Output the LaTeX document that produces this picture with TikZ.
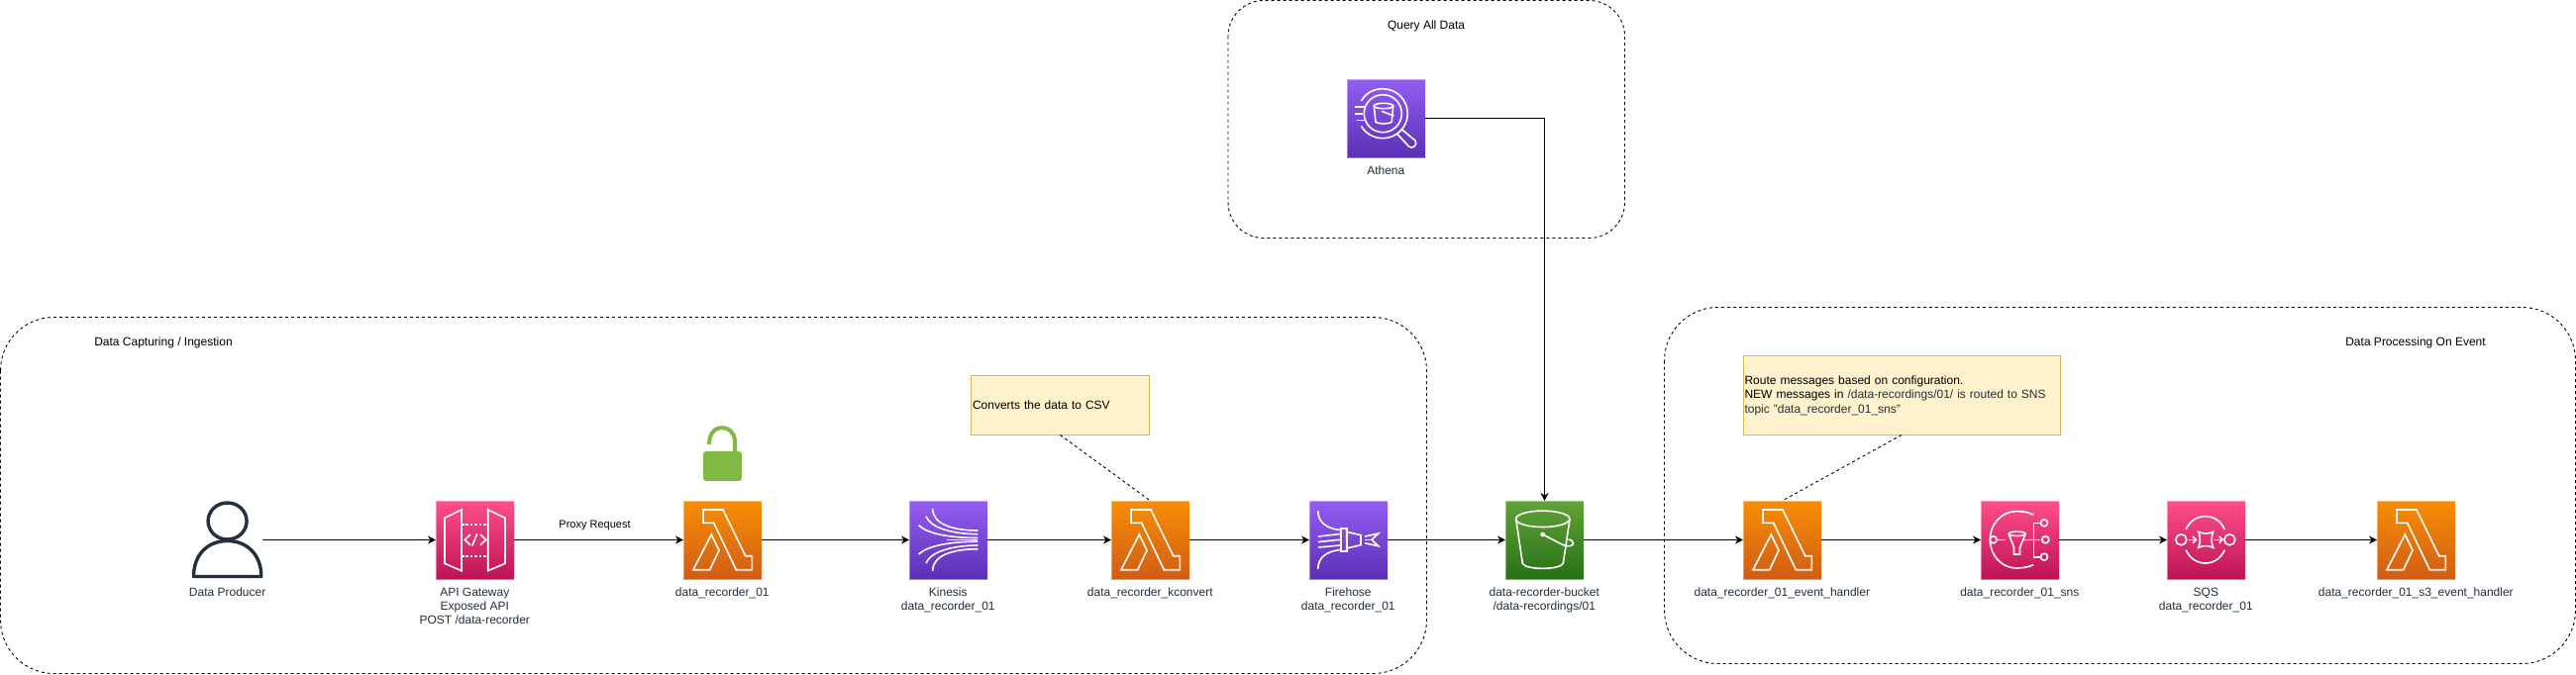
\documentclass[tikz,border=0pt]{standalone}
\usepackage{fontspec}
\setmainfont{Liberation Sans}
\usetikzlibrary{arrows.meta}
\definecolor{awsink}{HTML}{232F3E}
\definecolor{notefill}{HTML}{FFF2CC}
\definecolor{noteline}{HTML}{D6B656}
\definecolor{lockgreen}{HTML}{7FBA42}
\tikzset{
  icon/.style={rectangle,anchor=north west,minimum width=79pt,minimum height=79pt,inner sep=0pt,outer sep=0pt,draw=white,draw opacity=.4,line width=1pt},
  orangeicon/.style={icon,top color={rgb,255:red,247;green,142;blue,4},bottom color={rgb,255:red,208;green,92;blue,23}},
  purpleicon/.style={icon,top color={rgb,255:red,148;green,93;blue,242},bottom color={rgb,255:red,90;green,48;blue,181}},
  pinkicon/.style={icon,top color={rgb,255:red,255;green,79;blue,139},bottom color={rgb,255:red,188;green,19;blue,86}},
  greenicon/.style={icon,top color={rgb,255:red,96;green,163;blue,55},bottom color={rgb,255:red,39;green,113;blue,22}},
  glyph/.style={draw=white,line width=1.6pt,line join=miter,fill=none},
  groupbox/.style={draw=black,dash pattern=on 3pt off 3pt,line width=.9pt,fill=none},
  grouptitle/.style={font=\fontsize{12}{14.4}\selectfont,text=black,inner sep=0pt},
  iconlabel/.style={font=\fontsize{12}{14.4}\selectfont,text=awsink,align=center,anchor=north,inner sep=0pt},
  notebox/.style={rectangle,draw=noteline,fill=notefill,line width=1pt,anchor=north west,inner xsep=1.5pt,inner ysep=0pt,align=left,font=\fontsize{12}{14.4}\selectfont,text=black,outer sep=0pt},
  flow/.style={draw=black,line width=1pt,-{Stealth[length=8pt,width=8pt,inset=2.5pt]}},
  notelink/.style={draw=black,line width=.9pt,dash pattern=on 3pt off 3pt},
}
\newcommand{\glyphLambda}{%
  \draw[glyph] (20,9)--(40,9)--(62.7,55.7)--(69.3,55.7)--(69.3,69.7)--(53.3,69.7)--(30.7,22.3)--(20,22.3)--cycle;
  \draw[glyph] (28.3,34)--(36,50)--(26.7,69.7)--(10,69.7)--cycle;}
\newcommand{\glyphGateway}{%
  \draw[glyph] (26,9)--(26,70.7)--(9,63.3)--(9,17.3)--cycle;
  \draw[glyph] (52.7,9)--(70,17.3)--(70,63.3)--(52.7,70.7)--cycle;
  \draw[glyph,dash pattern=on 2.6pt off 1.8pt] (26,24)--(52.7,24);
  \draw[glyph,dash pattern=on 2.6pt off 1.8pt] (26,55.7)--(52.7,55.7);
  \draw[glyph] (35,34)--(29.3,39.3)--(35,44.7);
  \draw[glyph] (45,34)--(50.7,39.3)--(45,44.7);
  \draw[glyph] (41.7,33.3)--(36.7,45.7);}
\newcommand{\glyphKinesis}{%
  \draw[glyph] (23.7,8) .. controls (23.7,24) and (45,30) .. (69.3,30);
  \draw[glyph] (17,15.7) .. controls (22,28) and (45,33.5) .. (69.3,33.7);
  \draw[glyph] (9.7,24.7) .. controls (18,33) and (40,37.5) .. (69.3,37.5);
  \draw[glyph] (38,39.3)--(69.3,39.3);
  \draw[glyph] (23.7,70.7) .. controls (23.7,54.7) and (45,48.7) .. (69.3,48.7);
  \draw[glyph] (17,63) .. controls (22,50.7) and (45,45.2) .. (69.3,45);
  \draw[glyph] (9.7,54) .. controls (18,45.7) and (40,41.2) .. (69.3,41.2);}
\newcommand{\glyphFirehose}{%
  \draw[glyph] (8.7,10) .. controls (8.7,22) and (18,28) .. (31,29.5);
  \draw[glyph] (8.7,69) .. controls (8.7,57) and (18,51) .. (31,49.5);
  \draw[glyph] (9,36) -- (31,33.5);
  \draw[glyph] (9,41.5) -- (31,39.3);
  \draw[glyph] (9,47) -- (31,45);
  \draw[glyph] (31.7,28) rectangle (37.7,50.7);
  \draw[glyph] (37.7,31.3)--(52,34.7)--(52,44.7)--(37.7,48)--cycle;
  \draw[glyph] (56,36)--(69.7,33)--(63,39.3)--(69.7,45.7)--(56,42.7);
  \draw[glyph] (56,39.3)--(63,39.3);}
\newcommand{\glyphBucket}{%
  \draw[glyph] (37.7,18.3) ellipse[x radius=27.2,y radius=8.2];
  \draw[glyph] (10.7,18.3)--(17.3,63.3) .. controls (20,70) and (55,70) .. (58.3,63.3)--(65,18.3);
  \fill[white] (37.7,34) circle[radius=2.4];
  \draw[glyph] (37.7,34)--(58,44.5) .. controls (64,47.3) and (69,45) .. (68.5,42.5) .. controls (68,40) and (65,39) .. (63.5,39);}
\newcommand{\glyphTopic}{%
  \draw[glyph] (53.3,14) .. controls (48,11.5) and (42,10.6) .. (36,10.6) .. controls (21,10.6) and (9.3,23.5) .. (9.3,39.3) .. controls (9.3,55) and (21,68) .. (36,68) .. controls (42,68) and (48,67) .. (53.3,64.6);
  \draw[glyph] (12.7,39.3) circle[radius=3.5];
  \draw[glyph] (16,39.3)--(25,39.3);
  \draw[glyph] (36.7,33.3) ellipse[x radius=8.5,y radius=2.2];
  \draw[glyph] (28.2,33.3)--(33.5,47.3)--(33.5,54)--(39.5,54)--(39.5,47.3)--(45.2,33.3);
  \draw[glyph] (42,39.3)--(60,39.3);
  \draw[glyph] (60.7,22.3)--(53.3,22.3)--(53.3,56.7)--(60.7,56.7);
  \draw[glyph] (64,22.3) circle[radius=3.5];
  \draw[glyph] (65.3,39.3) circle[radius=3.5];
  \draw[glyph] (64,56.7) circle[radius=3.5];}
\newcommand{\glyphQueue}{%
  \draw[glyph] (19,29) .. controls (23,20.5) and (30,15.7) .. (38.7,15.7) .. controls (47.5,15.7) and (54.5,20.5) .. (58.3,29);
  \draw[glyph] (19,49.6) .. controls (23,58) and (30,63) .. (38.7,63) .. controls (47.5,63) and (54.5,58) .. (58.3,49.6);
  \draw[glyph] (14.3,39.3) circle[radius=5.5];
  \draw[glyph] (63.3,39.3) circle[radius=5.5];
  \draw[glyph] (31.7,31.3) .. controls (36,33.5) and (42,33.5) .. (46.7,31.3) .. controls (44.5,36) and (44.5,42.5) .. (46.7,47.3) .. controls (42,45) and (36,45) .. (31.7,47.3) .. controls (33.9,42.5) and (33.9,36) .. (31.7,31.3) -- cycle;
  \draw[glyph] (21.7,39.3)--(29,39.3);
  \draw[glyph] (26,36)--(29.3,39.3)--(26,42.6);
  \draw[glyph] (48.3,39.3)--(55.7,39.3);
  \draw[glyph] (52.7,36)--(56,39.3)--(52.7,42.6);}
\newcommand{\glyphAthena}{%
  \draw[glyph] (36.3,34.7) circle[radius=19];
  \draw[glyph] (14.5,22) .. controls (19,14) and (27,9.7) .. (36.3,9.7) .. controls (50,9.7) and (61.3,21) .. (61.3,34.7) .. controls (61.3,48.5) and (50,59.7) .. (36.3,59.7) .. controls (27,59.7) and (19,55) .. (14.5,47.5);
  \draw[glyph] (37,27) ellipse[x radius=9.7,y radius=2.7];
  \draw[glyph] (27.3,27)--(29,43) .. controls (31,45.5) and (43,45.5) .. (45.3,43)--(46.7,27);
  \draw[glyph] (35,32.3)--(47.3,37);
  \draw[glyph] (8,28)--(18,28);
  \draw[glyph] (8,34.7)--(16,34.7);
  \draw[glyph] (10,41.3)--(19,41.3);
  \draw[glyph] (55,50.5)--(69,62) .. controls (72,66) and (66,71.5) .. (62.5,68)--(50.5,55);}
\newcommand{\awsicon}[5]{%
  \node[#3] (#1) at (#2,#4) {};
  \begin{scope}[shift={(#2,#4)}]#5\end{scope}}
\begin{document}
\begin{tikzpicture}[x=1pt,y=-1pt]
\path[use as bounding box,fill=white] (0,0) rectangle (2601,681);
% groups
\draw[groupbox,rounded corners=54pt] (.5,320.5) rectangle (1440.5,680.5);
\draw[groupbox,rounded corners=36pt] (1240,.5) rectangle (1640.5,240.5);
\draw[groupbox,rounded corners=54pt] (1680.5,310.5) rectangle (2600.5,670.5);
\node[grouptitle] (capturetitle) at (165,346) {Data Capturing / Ingestion};
\node[grouptitle] (querytitle) at (1440,26) {Query All Data};
\node[grouptitle] (processtitle) at (2439,346) {Data Processing On Event};
% person
\node[rectangle,minimum width=71pt,minimum height=79pt,inner sep=0pt,outer sep=0pt,anchor=north west] (person) at (194,506) {};
\draw[awsink,line width=3.4pt] (229.6,526.5) ellipse[x radius=19.5,y radius=18.5];
\draw[awsink,line width=3.4pt,line join=round] (195.5,582.5) .. controls (195.5,560) and (210,546.5) .. (229.6,546.5) .. controls (249,546.5) and (263.8,560) .. (263.8,582.5) -- cycle;
% lock
\node[rectangle,fill=lockgreen,rounded corners=2.5pt,minimum width=38.7pt,minimum height=29.7pt,inner sep=0pt,anchor=north west] (lock) at (710,456) {};
\draw[lockgreen,line width=4pt] (716,449) .. controls (716,438) and (722,432) .. (729,432) .. controls (736,432) and (742,438) .. (742,445) -- (742,456);
% icons
\awsicon{gateway}{440}{pinkicon}{506}{\glyphGateway}
\awsicon{recorder}{690}{orangeicon}{506}{\glyphLambda}
\awsicon{kinesis}{918}{purpleicon}{506}{\glyphKinesis}
\awsicon{kconvert}{1122}{orangeicon}{506}{\glyphLambda}
\awsicon{firehose}{1322}{purpleicon}{506}{\glyphFirehose}
\awsicon{bucket}{1520}{greenicon}{506}{\glyphBucket}
\awsicon{eventh}{1760}{orangeicon}{506}{\glyphLambda}
\awsicon{topic}{2000}{pinkicon}{506}{\glyphTopic}
\awsicon{queue}{2188}{pinkicon}{506}{\glyphQueue}
\awsicon{s3handler}{2400}{orangeicon}{506}{\glyphLambda}
\awsicon{athena}{1360}{purpleicon}{80}{\glyphAthena}
% icon labels
\node[iconlabel] (lperson) at (229.6,593.5) {Data Producer};
\node[iconlabel] (lgateway) at (479.3,593.5) {API Gateway\\Exposed API\\POST /data-recorder};
\node[iconlabel] (lrecorder) at (729.3,593.5) {data\_recorder\_01};
\node[iconlabel] (lkinesis) at (957.3,593.5) {Kinesis\\data\_recorder\_01};
\node[iconlabel] (lkconvert) at (1161.3,593.5) {data\_recorder\_kconvert};
\node[iconlabel] (lfirehose) at (1361.3,593.5) {Firehose\\data\_recorder\_01};
\node[iconlabel] (lbucket) at (1559.3,593.5) {data-recorder-bucket\\/data-recordings/01};
\node[iconlabel] (leventh) at (1799.3,593.5) {data\_recorder\_01\_event\_handler};
\node[iconlabel] (ltopic) at (2039.3,593.5) {data\_recorder\_01\_sns};
\node[iconlabel] (lqueue) at (2227.3,593.5) {SQS\\data\_recorder\_01};
\node[iconlabel] (ls3handler) at (2439.3,593.5) {data\_recorder\_01\_s3\_event\_handler};
\node[iconlabel] (lathena) at (1399.3,167.5) {Athena};
% notes
\node[notebox,minimum width=180pt,minimum height=60pt,text width=177pt] (note1) at (980.5,379.5) {Converts the data to CSV};
\node[notebox,minimum width=320pt,minimum height=80pt,text width=317pt] (note2) at (1760,359.5) {Route messages based on configuration.\\NEW messages in \textcolor{awsink}{/data-recordings/01/ is routed to SNS}\\\textcolor{awsink}{topic "data\_recorder\_01\_sns"}};
% connectors
\draw[flow] (person) -- (gateway);
\draw[flow] (gateway) -- (recorder);
\node[font=\fontsize{11}{13}\selectfont,text=black,inner sep=0pt] (proxylabel) at (600.5,531) {Proxy Request};
\draw[flow] (recorder) -- (kinesis);
\draw[flow] (kinesis) -- (kconvert);
\draw[flow] (kconvert) -- (firehose);
\draw[flow] (firehose) -- (bucket);
\draw[flow] (bucket) -- (eventh);
\draw[flow] (eventh) -- (topic);
\draw[flow] (topic) -- (queue);
\draw[flow] (queue) -- (s3handler);
\draw[flow] (athena.east) -| (bucket.north);
\draw[notelink] (note1.south) -- (kconvert.north);
\draw[notelink] (note2.south) -- (eventh.north);
\end{tikzpicture}
\end{document}
